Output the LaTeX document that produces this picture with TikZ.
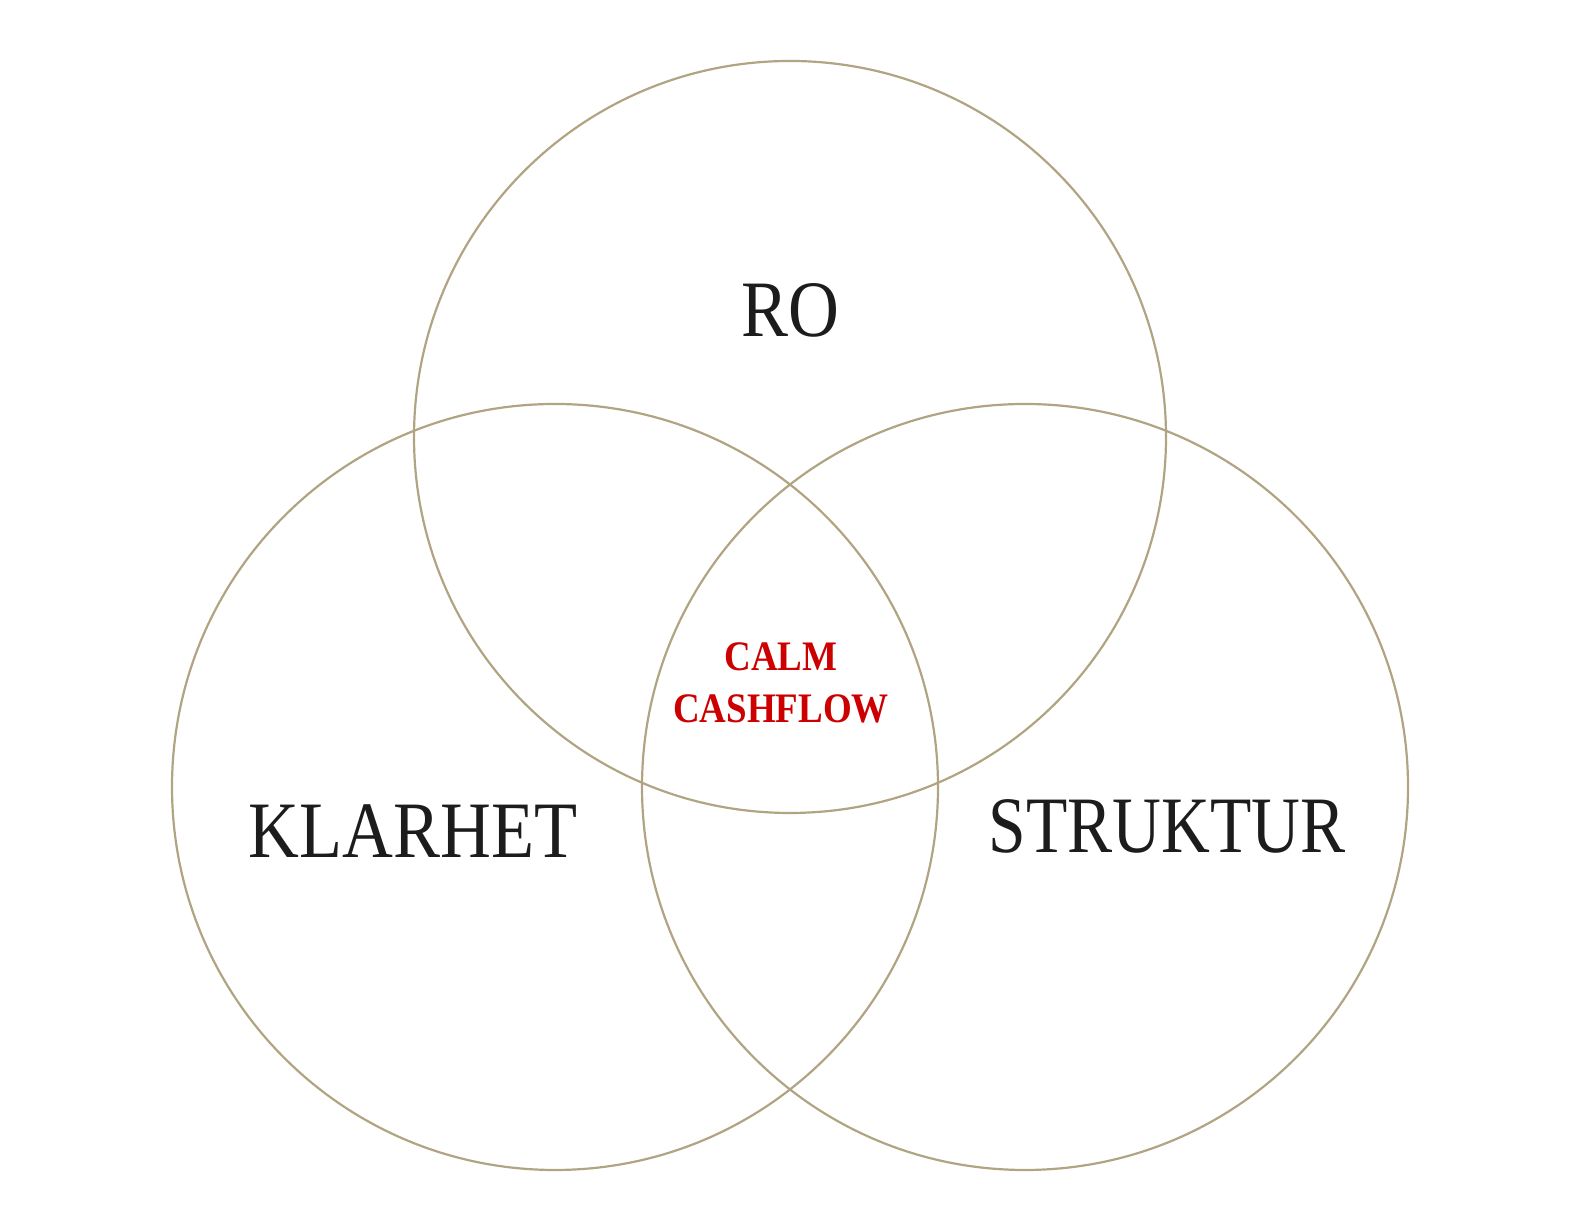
\documentclass[tikz,border=0pt]{standalone}
\usepackage{fontspec}
\setmainfont{Liberation Serif}
\usetikzlibrary{positioning}
\definecolor{vnline}{RGB}{176,164,130}
\definecolor{vntext}{RGB}{28,28,28}
\definecolor{vnred}{RGB}{204,0,0}

\begin{document}
\begin{tikzpicture}[x=0.5pt,y=0.5pt,
        ring/.style={draw=vnline,line width=1.1pt},
        big/.style={anchor=base,text=vntext,font=\fontsize{40}{48}\selectfont,xscale=0.88,inner sep=0pt},
        core/.style={anchor=base,text=vnred,font=\bfseries\fontsize{21}{26}\selectfont,xscale=0.88,inner sep=0pt}]
      \useasboundingbox (0,0) rectangle (1574,1218);
      % circle centres
      \coordinate (cro) at (790,781);
      \coordinate (ckl) at (555,431);
      \coordinate (cst) at (1025,431);
      \draw[ring] (cro) circle[radius=376];
      \draw[ring] (ckl) circle[radius=383];
      \draw[ring] (cst) circle[radius=383];
      % labels
      \node[big] (ro)  at (790,881)  {RO};
      \node[big] (kl)  at (413,360)  {KLARHET};
      \node[big,xscale=0.96] (st)  at (1167,365) {STRUKTUR};
      \node[core] (calm) at (781,547) {CALM};
      \node[core] (cash) at (781,495) {CASHFLOW};
    \end{tikzpicture}
\end{document}
